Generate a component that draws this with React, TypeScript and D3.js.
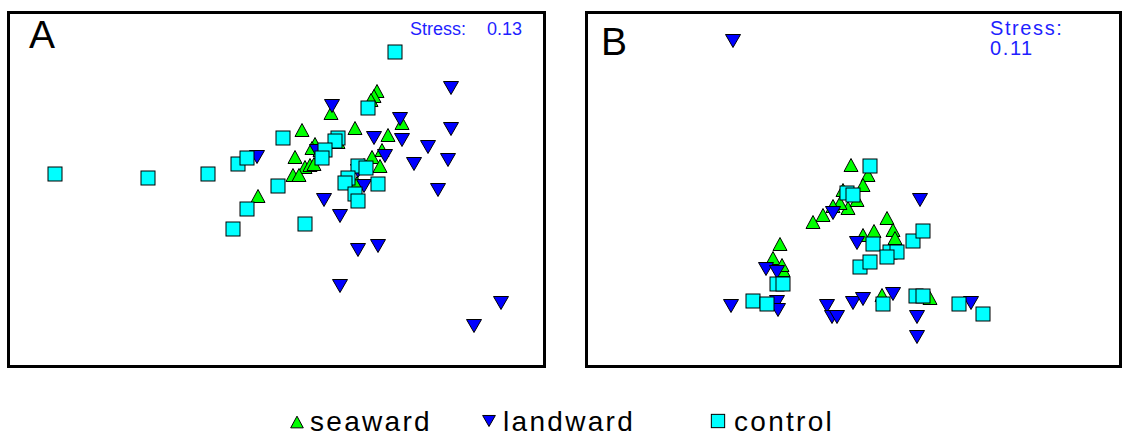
import React from "react";
import * as d3 from "d3";

// NMDS ordination scores (MDS1, MDS2) for each treatment group.
const seawardA: [number, number][] = [
  [1.0, 0.98], [0.97, 0.93], [0.94, 0.89], [0.54, 0.76], [0.25, 0.59], [0.78, 0.61],
  [1.11, 0.54], [1.25, 0.66], [0.38, 0.45], [0.35, 0.41], [0.43, 0.39], [0.18, 0.32],
  [0.28, 0.22], [0.33, 0.24], [0.37, 0.25], [0.16, 0.14], [0.22, 0.14], [0.61, 0.47],
  [0.95, 0.32], [1.05, 0.39], [1.03, 0.23], [0.8, 0.06], [-0.19, -0.07], [0.87, 0.24],
];
const landwardA: [number, number][] = [
  [1.74, 1.01], [0.55, 0.83], [1.23, 0.7], [1.74, 0.6], [0.97, 0.51], [1.25, 0.49],
  [1.51, 0.42], [1.71, 0.29], [1.37, 0.25], [1.08, 0.33], [0.87, 0.03], [1.61, -0.01],
  [0.47, -0.11], [0.63, -0.27], [0.81, -0.61], [1.01, -0.57], [0.63, -0.97], [2.24, -1.14],
  [1.97, -1.37], [-0.2, 0.32], [0.4, 0.38], [0.81, 0.18],
];
const controlA: [number, number][] = [
  [-2.22, 0.15], [-1.29, 0.11], [-0.69, 0.15], [-0.39, 0.25], [-0.3, 0.31], [1.18, 1.37],
  [0.91, 0.81], [0.06, 0.51], [0.61, 0.51], [0.58, 0.48], [0.48, 0.39], [0.45, 0.31],
  [0.01, 0.03], [0.81, 0.23], [0.89, 0.21], [0.71, 0.11], [0.68, 0.06], [1.01, 0.05],
  [0.78, -0.05], [0.81, -0.12], [-0.3, -0.2], [-0.44, -0.4], [0.28, -0.35],
];

const seawardB: [number, number][] = [
  [-0.02, 0.24], [0.15, 0.14], [0.1, 0.04], [-0.1, -0.01], [-0.05, -0.19], [-0.13, -0.14],
  [-0.2, -0.17], [-0.3, -0.26], [-0.4, -0.33], [0.34, -0.29], [0.4, -0.41], [0.42, -0.49],
  [0.21, -0.42], [0.1, -0.46], [-0.73, -0.55], [-0.8, -0.69], [-0.7, -0.81], [-0.71, -0.76],
  [0.29, -1.06], [0.77, -1.09], [0.04, -0.11],
];
const landwardB: [number, number][] = [
  [-1.2, 1.48], [-0.2, -0.24], [0.04, -0.54], [0.67, -0.11], [-0.87, -0.8], [-0.76, -0.83],
  [-1.22, -1.17], [-0.76, -1.13], [-0.75, -1.21], [-0.26, -1.17], [-0.21, -1.28], [-0.16, -1.28],
  [0.0, -1.14], [0.1, -1.1], [0.4, -1.05], [0.64, -1.28], [0.64, -1.48], [1.18, -1.14],
];
const controlB: [number, number][] = [
  [0.17, 0.23], [-0.06, -0.04], [0.0, -0.06], [0.2, -0.55], [0.37, -0.63], [0.44, -0.63],
  [0.34, -0.68], [0.6, -0.52], [0.7, -0.42], [0.07, -0.78], [0.17, -0.73], [-0.76, -0.95],
  [-0.7, -0.95], [-1.0, -1.12], [-0.86, -1.15], [0.3, -1.15], [0.63, -1.07], [0.7, -1.07],
  [1.06, -1.15], [1.3, -1.25],
];

const groupNames = ["seaward", "landward", "control"];
const stressA = "0.13";
const stressB = "0.11";

const COLORS: Record<string, string> = {
  seaward: "#00ff00",
  landward: "#0000ff",
  control: "#00ffff",
};

const FONT = "'Liberation Sans', Arial, Helvetica, sans-serif";

type Pt = [number, number];

function Marker({ kind, x, y, s = 1 }: { kind: string; x: number; y: number; s?: number }) {
  const common = { fill: COLORS[kind], stroke: "#000", strokeWidth: 1 };
  if (kind === "seaward") {
    const w = 7 * s, h = 6.5 * s;
    return <path d={`M${x - w},${y + h}L${x + w},${y + h}L${x},${y - h}Z`} {...common} />;
  }
  if (kind === "landward") {
    const w = 7.5 * s, h = 6.5 * s;
    return <path d={`M${x - w},${y - h}L${x + w},${y - h}L${x},${y + h}Z`} {...common} />;
  }
  const r = 7 * s;
  return <rect x={x - r} y={y - r} width={2 * r} height={2 * r} {...common} />;
}

interface PanelProps {
  left: number;
  right: number;
  top: number;
  bottom: number;
  xDomain: [number, number];
  yDomain: [number, number];
  groups: Pt[][];
  label: string;
  labelX: number;
  labelY: number;
  stress: React.ReactNode;
}

function Panel(p: PanelProps) {
  const x = d3.scaleLinear().domain(p.xDomain).range([p.left, p.right]);
  const y = d3.scaleLinear().domain(p.yDomain).range([p.bottom, p.top]);
  return (
    <g>
      <rect
        x={p.left}
        y={p.top}
        width={p.right - p.left}
        height={p.bottom - p.top}
        fill="#fff"
        stroke="#000"
        strokeWidth={3}
      />
      <text x={p.labelX} y={p.labelY} fontSize={39} fontFamily={FONT} fill="#000">
        {p.label}
      </text>
      {p.stress}
      {p.groups.map((pts, gi) =>
        pts.map((d, i) => (
          <Marker key={`${gi}-${i}`} kind={groupNames[gi]} x={x(d[0])} y={y(d[1])} />
        ))
      )}
    </g>
  );
}

export default function App() {
  const stressColor = "#1f1fff";
  return (
    <svg width={1122} height={436} style={{ position: "absolute", left: 0, top: 0 }}>
      <rect width={1122} height={436} fill="#fff" />
      <Panel
        left={8.5}
        right={544.5}
        top={12.5}
        bottom={366.5}
        xDomain={[-2.685, 2.675]}
        yDomain={[-1.775, 1.765]}
        groups={[seawardA, landwardA, controlA]}
        label="A"
        labelX={29}
        labelY={48}
        stress={
          <g fontFamily={FONT} fontSize={18} fill={stressColor}>
            <text x={466} y={35} textAnchor="end">Stress:</text>
            <text x={522} y={35} textAnchor="end">{stressA}</text>
          </g>
        }
      />
      <Panel
        left={586.5}
        right={1120.5}
        top={12.5}
        bottom={366.5}
        xDomain={[-2.665, 2.675]}
        yDomain={[-1.775, 1.765]}
        groups={[seawardB, landwardB, controlB]}
        label="B"
        labelX={601}
        labelY={55}
        stress={
          <g fontFamily={FONT} fontSize={20} fill={stressColor} letterSpacing={1.6}>
            <text x={990} y={35}>Stress:</text>
            <text x={990} y={55}>{stressB}</text>
          </g>
        }
      />
      {/* legend */}
      <g fontFamily={FONT} fontSize={28} letterSpacing={2.3} fill="#000">
        <Marker kind="seaward" x={297} y={422} s={0.9} />
        <text x={310} y={431}>{groupNames[0]}</text>
        <Marker kind="landward" x={489} y={421} s={0.85} />
        <text x={503} y={431}>{groupNames[1]}</text>
        <Marker kind="control" x={718} y={421} s={0.95} />
        <text x={734} y={431}>{groupNames[2]}</text>
      </g>
    </svg>
  );
}
